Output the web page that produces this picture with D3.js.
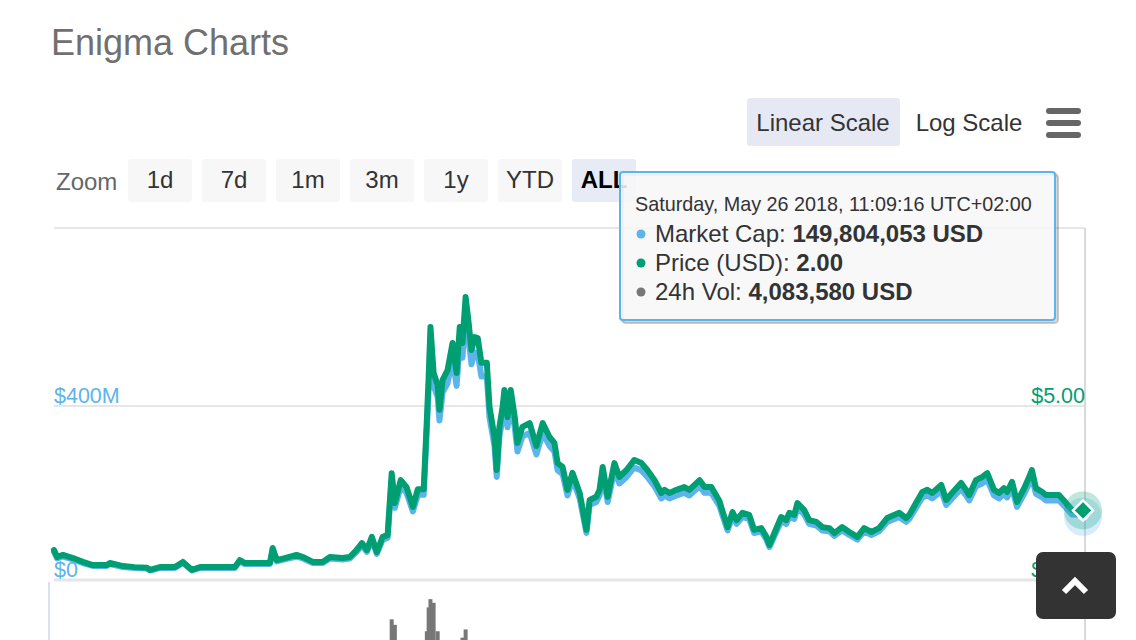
<!DOCTYPE html>
<html><head><meta charset="utf-8">
<script src="https://cdn.jsdelivr.net/npm/d3@7"></script>
<style>
body{margin:0;background:#fff;}
svg{display:block;font-family:"Liberation Sans",Arial,Helvetica,sans-serif;}
</style>
</head><body>
<svg id="c" width="1136" height="640"></svg>
<script>
// ---- data ----
const startDate = "2017-10-10T00:00:00Z";
const dayOffsets = [
  0,0.7,2.0,4.2,6.4,8.6,10.2,11.7,12.4,15.3,
  17.9,20.6,21.3,23.5,26.8,28.6,30.6,32.4,36.8,40.1,
  41.2,42.3,47.9,48.5,49.4,51.2,53.8,55.2,57.4,59.6,
  61.2,64.0,65.6,67.1,68.3,69.4,70.5,71.6,72.9,74.0,
  74.9,75.6,76.9,78.2,79.6,80.7,82.0,82.7,83.1,83.5,
  84.2,85.1,85.5,86.2,87.3,88.4,89.3,90.0,90.6,91.3,
  91.9,92.6,93.3,94.0,94.8,96.0,96.6,97.7,98.2,98.8,
  99.5,99.9,100.6,101.3,102.2,102.8,103.9,105.5,107.0,108.4,
  109.9,111.0,111.7,112.8,113.9,115.0,116.6,118.1,118.8,120.3,
  121.0,121.7,122.8,124.3,125.4,127.0,128.7,130.3,131.6,133.2,
  134.7,135.4,136.5,138.1,139.8,140.9,143.2,144.3,145.8,147.6,
  148.2,149.4,150.5,151.4,152.7,154.2,155.3,156.9,158.0,158.7,
  159.8,161.3,162.4,163.1,164.2,164.9,166.4,167.5,169.1,170.4,
  172.0,173.1,174.8,176.4,178.2,179.7,181.3,183.0,184.8,187.5,
  189.0,189.7,191.2,192.6,193.7,194.8,196.8,197.9,199.2,201.2,
  202.3,203.0,204.5,205.9,207.0,208.5,209.6,210.7,211.4,212.5,
  213.6,215.2,216.3,216.9,217.8,219.2,220.0,221.4,222.9,224.5,
  225.8,228.46
];
const priceUSD = [
  0.86,0.66,0.72,0.63,0.52,0.43,0.43,0.43,0.49,0.40,
  0.37,0.35,0.29,0.37,0.37,0.52,0.29,0.37,0.37,0.37,
  0.57,0.49,0.49,0.92,0.57,0.63,0.72,0.66,0.52,0.52,
  0.66,0.63,0.66,0.86,1.06,0.86,1.24,0.80,1.24,1.29,
  3.07,2.21,2.87,2.67,2.10,2.61,2.61,4.60,5.83,7.27,
  5.95,5.60,4.89,5.75,6.03,6.81,5.95,7.27,6.81,8.13,
  7.47,6.61,6.98,6.95,6.24,6.24,4.97,4.11,3.16,4.40,
  4.97,5.46,4.68,5.46,4.68,3.94,4.40,4.51,3.85,4.51,
  4.11,3.94,3.36,3.25,2.59,3.08,2.50,1.44,2.30,2.39,
  2.59,3.25,2.39,3.36,2.96,3.16,3.45,3.36,3.16,2.87,
  2.50,2.59,2.50,2.59,2.67,2.59,2.87,2.67,2.67,2.27,
  2.01,1.52,1.95,1.72,1.93,1.87,1.44,1.49,1.24,1.01,
  1.35,1.81,1.72,1.93,1.87,2.21,2.01,1.72,1.67,1.52,
  1.49,1.35,1.52,1.38,1.24,1.49,1.38,1.49,1.78,1.93,
  1.78,1.87,2.21,2.53,2.59,2.50,2.73,2.30,2.50,2.79,
  2.59,2.44,2.87,2.96,3.07,2.59,2.50,2.64,2.53,2.82,
  2.24,2.64,2.96,3.16,2.64,2.53,2.44,2.44,2.44,2.21,
  2.01,2.00
];
const marketCapM = [
  64.5,49.5,54.0,47.3,39.0,32.3,32.3,32.3,36.8,30.0,
  27.8,26.3,21.8,27.8,27.8,39.0,21.8,27.8,27.8,27.8,
  42.8,36.8,36.8,69.0,42.8,47.3,54.0,49.5,39.0,39.0,
  49.5,47.3,49.5,64.5,79.5,64.5,93.0,60.0,93.0,96.8,
  230.3,165.8,215.3,200.3,157.5,195.8,195.8,345.0,437.3,545.3,
  446.3,420.0,366.8,431.3,452.3,510.8,446.3,545.3,510.8,609.8,
  560.3,495.8,523.5,521.3,468.0,468.0,372.8,308.3,237.0,330.0,
  372.8,409.5,351.0,409.5,351.0,295.5,330.0,338.3,288.8,338.3,
  308.3,295.5,252.0,243.8,194.3,231.0,187.5,108.0,172.5,179.3,
  194.3,243.8,179.3,252.0,222.0,237.0,258.8,252.0,237.0,215.3,
  187.5,194.3,187.5,194.3,200.3,194.3,215.3,200.3,200.3,170.3,
  150.8,114.0,146.3,129.0,144.8,140.3,108.0,111.8,93.0,75.8,
  101.3,135.8,129.0,144.8,140.3,165.8,150.8,129.0,125.3,114.0,
  111.8,101.3,114.0,103.5,93.0,111.8,103.5,111.8,133.5,144.8,
  133.5,140.3,165.8,189.8,194.3,187.5,204.8,172.5,187.5,209.3,
  194.3,183.0,215.3,222.0,230.3,194.3,187.5,198.0,189.8,211.5,
  168.0,198.0,222.0,237.0,198.0,189.8,183.0,183.0,183.0,165.8,
  150.8,149.8
];
const volumeM = [
  12,8,6,5,4,3,3,3,4,3,
  3,2,2,2,2,3,2,2,2,2,
  3,2,2,9,4,3,4,3,2,2,
  3,3,3,6,12,8,15,7,14,20,
  88,82,45,38,30,35,40,75,101,110,
  106,75,50,48,45,52,40,60,68,77,
  50,40,35,30,28,25,35,40,45,30,
  25,28,22,20,18,20,15,14,12,13,
  11,10,12,10,14,11,10,18,12,9,
  8,10,8,9,8,7,8,7,6,6,
  5,5,5,5,6,5,6,5,5,6,
  7,8,6,5,5,4,6,5,6,8,
  6,5,5,5,4,5,4,4,4,4,
  4,3,4,3,4,3,3,3,4,5,
  4,4,6,7,6,5,6,5,5,6,
  5,5,6,6,7,5,5,5,4,5,
  5,4,5,6,5,4,4,4,4,5,
  4,4.08
];
const capTicks = [0, 400];      // $M
const priceTicks = [0, 5];      // USD
const zoomButtons = ["1d","7d","1m","3m","1y","YTD","ALL"];
const scaleButtons = ["Linear Scale","Log Scale"];
const hoverDate = "Saturday, May 26 2018, 11:09:16 UTC+02:00";
const hoverCap = 149804053, hoverPrice = 2.00, hoverVol = 4083580;

// ---- colours ----
const C_CAP = "#5cb4ea", C_PRICE = "#009e73", C_VOL = "#777777";

const svg = d3.select("#c");
const n = Math.min(dayOffsets.length, priceUSD.length, marketCapM.length, volumeM.length);
const t0 = new Date(startDate).getTime();
const dates = d3.range(n).map(i => new Date(t0 + dayOffsets[i] * 864e5));

const L = 54, R = 1085, R_pt = 1084;
const x = d3.scaleUtc().domain([dates[0], dates[n-1]]).range([L, R_pt]);
const yCap = d3.scaleLinear().domain([0, 400]).range([580, 406]);
const yPrice = d3.scaleLinear().domain([0, 5]).range([580, 406]);
const yVol = d3.scaleLinear().domain([0, 120]).range([700, 590]);

// title
svg.append("text").attr("x", 51).attr("y", 55).attr("font-size", 36)
  .attr("fill", "#707070").text("Enigma Charts");

// scale buttons
svg.append("rect").attr("x", 747).attr("y", 98).attr("width", 153).attr("height", 48)
  .attr("rx", 3).attr("fill", "#e6e9f4");
svg.append("text").attr("x", 823).attr("y", 131).attr("text-anchor", "middle")
  .attr("font-size", 24).attr("fill", "#333").text(scaleButtons[0]);
svg.append("text").attr("x", 969).attr("y", 131).attr("text-anchor", "middle")
  .attr("font-size", 24).attr("fill", "#333").text(scaleButtons[1]);
// hamburger
[111, 123, 135].forEach(cy => {
  svg.append("rect").attr("x", 1046).attr("y", cy - 3).attr("width", 35).attr("height", 6)
    .attr("rx", 3).attr("fill", "#666");
});

// zoom row
svg.append("text").attr("x", 56).attr("y", 190).attr("font-size", 24)
  .attr("fill", "#666").text("Zoom");
zoomButtons.forEach((b, i) => {
  const bx = 128 + i * 74;
  const active = b === "ALL";
  svg.append("rect").attr("x", bx).attr("y", 159).attr("width", 64).attr("height", 43)
    .attr("rx", 3).attr("fill", active ? "#e6ebf5" : "#f7f7f7");
  svg.append("text").attr("x", bx + 32).attr("y", 188).attr("text-anchor", "middle")
    .attr("font-size", 24).attr("font-weight", active ? "bold" : "normal")
    .attr("fill", active ? "#000" : "#333").text(b);
});

// grid / frame
const grid = svg.append("g");
grid.append("line").attr("x1", L).attr("x2", R).attr("y1", 228).attr("y2", 228)
  .attr("stroke", "#e6e6e6").attr("stroke-width", 2);
capTicks.forEach(t => {
  grid.append("line").attr("x1", L).attr("x2", R).attr("y1", yCap(t)).attr("y2", yCap(t))
    .attr("stroke", "#e6e6e6").attr("stroke-width", t === 0 ? 3 : 2);
});
grid.append("line").attr("x1", 49).attr("x2", 49).attr("y1", 582).attr("y2", 640)
  .attr("stroke", "#ccd6eb").attr("stroke-width", 1.5);

// volume bars
svg.append("g").selectAll("rect").data(d3.range(n)).join("rect")
  .attr("x", i => x(dates[i]) - 2).attr("width", 4)
  .attr("y", i => yVol(volumeM[i])).attr("height", i => yVol(0) - yVol(volumeM[i]))
  .attr("fill", C_VOL);

// crosshair
svg.append("line").attr("x1", x(dates[n-1]) + 1).attr("x2", x(dates[n-1]) + 1)
  .attr("y1", 228).attr("y2", 640).attr("stroke", "#cccccc").attr("stroke-width", 1.5);

// lines
const capLine = d3.line().x(i => x(dates[i])).y(i => yCap(marketCapM[i]));
const priceLine = d3.line().x(i => x(dates[i])).y(i => yPrice(priceUSD[i]));
svg.append("path").attr("d", capLine(d3.range(n))).attr("fill", "none")
  .attr("stroke", C_CAP).attr("stroke-width", 6).attr("stroke-linejoin", "round").attr("stroke-linecap", "round");
svg.append("path").attr("d", priceLine(d3.range(n))).attr("fill", "none")
  .attr("stroke", C_PRICE).attr("stroke-width", 6).attr("stroke-linejoin", "round").attr("stroke-linecap", "round");

// hover markers
const lx = x(dates[n-1]) - 1, lyC = yCap(marketCapM[n-1]), lyP = yPrice(priceUSD[n-1]);
svg.append("circle").attr("cx", lx).attr("cy", lyC + 2).attr("r", 19).attr("fill", C_CAP).attr("opacity", 0.25);
svg.append("circle").attr("cx", lx).attr("cy", lyP).attr("r", 19).attr("fill", C_PRICE).attr("opacity", 0.25);
svg.append("circle").attr("cx", lx).attr("cy", lyC).attr("r", 5).attr("fill", C_CAP)
  .attr("stroke", "#fff").attr("stroke-width", 2);
svg.append("path").attr("d", `M${lx},${lyP-10}L${lx+10},${lyP}L${lx},${lyP+10}L${lx-10},${lyP}Z`)
  .attr("fill", C_PRICE).attr("stroke", "#fff").attr("stroke-width", 2.5);

// axis labels
const capAxis = d3.axisRight(yCap).tickValues(capTicks).tickSize(0).tickPadding(0)
  .tickFormat(d => d === 0 ? "$0" : `$${d}M`);
const gA = svg.append("g").attr("transform", `translate(${L},0)`).call(capAxis);
gA.select(".domain").remove();
gA.selectAll("text").attr("font-family", "Liberation Sans, Arial, sans-serif")
  .attr("font-size", 21.5).attr("fill", C_CAP).attr("dy", null).attr("y", -4)
  .attr("text-anchor", "start");
const priceAxis = d3.axisLeft(yPrice).tickValues(priceTicks).tickSize(0).tickPadding(0)
  .tickFormat(d => "$" + d3.format(".2f")(d));
const gB = svg.append("g").attr("transform", `translate(${R},0)`).call(priceAxis);
gB.select(".domain").remove();
gB.selectAll("text").attr("font-family", "Liberation Sans, Arial, sans-serif")
  .attr("font-size", 21.5).attr("fill", C_PRICE).attr("dy", null).attr("y", -4)
  .attr("text-anchor", "end");

// tooltip
const tt = svg.append("g");
[3, 2, 1].forEach(o => {
  tt.append("rect").attr("x", 620 + o).attr("y", 172 + o).attr("width", 435).attr("height", 148)
    .attr("rx", 3).attr("fill", "none").attr("stroke", "#000").attr("stroke-opacity", 0.05 * o)
    .attr("stroke-width", 5 - o);
});
tt.append("rect").attr("x", 620).attr("y", 172).attr("width", 435).attr("height", 148)
  .attr("rx", 3).attr("fill", "rgba(247,247,247,0.88)").attr("stroke", C_CAP).attr("stroke-width", 2);
tt.append("text").attr("x", 635).attr("y", 211).attr("font-size", 19.8).attr("fill", "#333").text(hoverDate);
const rows = [
  {c: C_CAP, label: "Market Cap: ", val: d3.format(",")(hoverCap) + " USD", y: 242},
  {c: C_PRICE, label: "Price (USD): ", val: d3.format(".2f")(hoverPrice), y: 271},
  {c: C_VOL, label: "24h Vol: ", val: d3.format(",")(hoverVol) + " USD", y: 300}
];
rows.forEach(r => {
  tt.append("circle").attr("cx", 641).attr("cy", r.y - 8).attr("r", 4.5).attr("fill", r.c);
  const t = tt.append("text").attr("x", 655).attr("y", r.y).attr("font-size", 24).attr("fill", "#333");
  t.append("tspan").text(r.label);
  t.append("tspan").attr("font-weight", "bold").text(r.val);
});

// back-to-top button
svg.append("rect").attr("x", 1036).attr("y", 552).attr("width", 80).attr("height", 67)
  .attr("rx", 7).attr("fill", "#333");
svg.append("path").attr("d", "M1064,592L1075,581L1086,592").attr("fill", "none")
  .attr("stroke", "#fff").attr("stroke-width", 6).attr("stroke-linejoin", "miter");
</script>
</body></html>
